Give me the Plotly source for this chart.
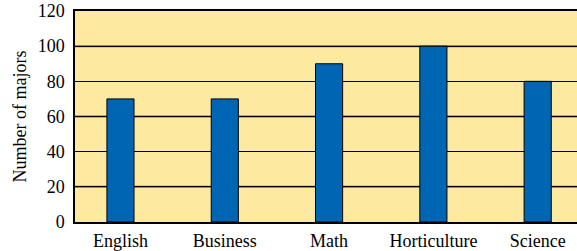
import plotly.graph_objects as go

categories = ["English", "Business", "Math", "Horticulture", "Science"]
majors = [70, 70, 90, 100, 80]
y_ticks = [0, 20, 40, 60, 80, 100, 120]
olive_grid = [20, 60, 100]

font = "Times New Roman, Liberation Serif, serif"

fig = go.Figure()
fig.add_trace(go.Bar(
    x=categories, y=majors, width=0.26,
    marker=dict(color="#0066B3", line=dict(color="#000000", width=1)),
))

fig.update_layout(
    width=577, height=251,
    margin=dict(l=75, r=0, t=11, b=29),
    paper_bgcolor="white", plot_bgcolor="#FDE9A0",
    showlegend=False,
    font=dict(family=font, size=18, color="#000000"),
    shapes=[
        dict(type="line", xref="paper", x0=0, x1=1, yref="y", y0=v, y1=v,
             line=dict(color="#7A6A3E", width=2), layer="between")
        for v in olive_grid
    ],
)
fig.update_xaxes(
    range=[-0.436, 4.377], showgrid=False, showline=True, linecolor="#000000",
    linewidth=1.5, mirror=True, ticks="", ticklabelstandoff=2,
    tickfont=dict(family=font, size=18),
)
fig.update_yaxes(
    range=[0, 120], tickvals=y_ticks, ticktext=[str(v) for v in y_ticks],
    showgrid=True, gridcolor="#000000", gridwidth=1.3,
    zeroline=False, showline=True, linecolor="#000000", linewidth=1.5,
    ticks="", ticklabelstandoff=5, ticklabeloverflow="allow",
    tickfont=dict(family=font, size=18),
    title=dict(text="Number of majors", font=dict(family=font, size=18), standoff=6),
)
fig.write_html("out.html", config={"displayModeBar": False},
               post_script="document.body.style.margin='0';")
